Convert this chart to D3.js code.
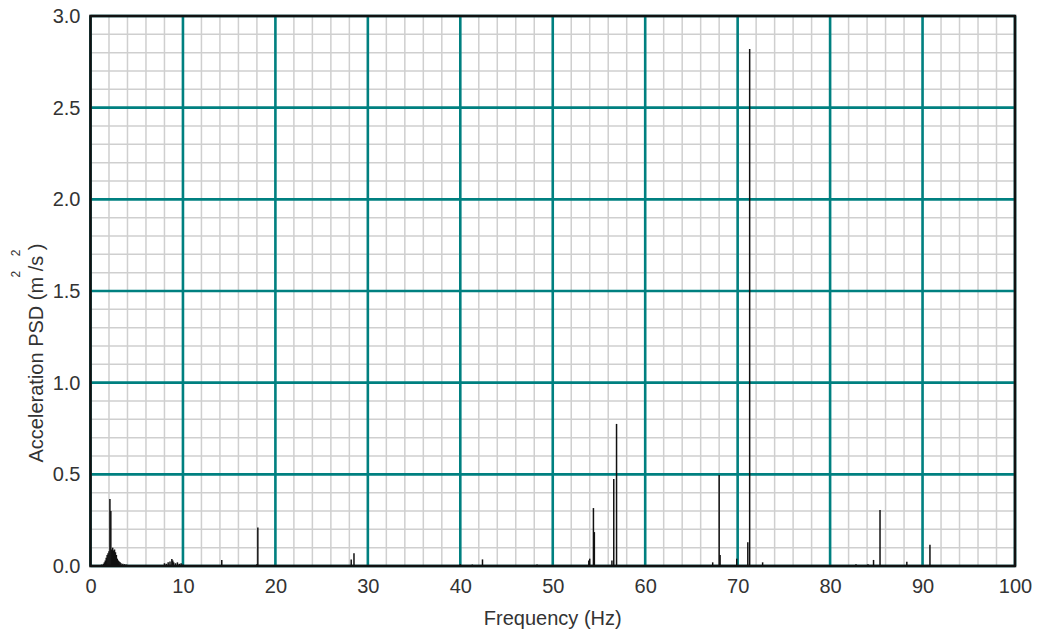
<!DOCTYPE html>
<html><head><meta charset="utf-8">
<script src="https://cdn.jsdelivr.net/npm/d3@7"></script>
<style>body{margin:0;background:#fff}svg{display:block}</style>
</head><body>
<svg id="c" width="1037" height="636"></svg>
<script>
const xTicks = [0,10,20,30,40,50,60,70,80,90,100];
const yTicks = [0,0.5,1.0,1.5,2.0,2.5,3.0];
const xMinor = [0,2,4,6,8,10,12,14,16,18,20,22,24,26,28,30,32,34,36,38,40,42,44,46,48,50,52,54,56,58,60,62,64,66,68,70,72,74,76,78,80,82,84,86,88,90,92,94,96,98,100];
const yMinor = [0,0.1,0.2,0.3,0.4,0.5,0.6,0.7,0.8,0.9,1.0,1.1,1.2,1.3,1.4,1.5,1.6,1.7,1.8,1.9,2.0,2.1,2.2,2.3,2.4,2.5,2.6,2.7,2.8,2.9,3.0];
const freq = [1.0,1.2,1.4,1.5,1.6,1.7,1.8,1.9,2.0,2.1,2.2,2.3,2.4,2.5,2.6,2.7,2.8,2.9,3.0,3.1,3.2,3.3,3.5,3.7,3.9,4.1,
  8.0,8.2,8.4,8.6,8.8,8.9,9.0,9.2,9.4,9.6,9.8,10.0,
  14.2,18.0,18.1,28.2,28.5,40.0,41.3,42.4,48.3,53.9,54.0,54.4,54.5,56.4,56.6,56.9,
  67.3,68.0,68.1,69.9,71.1,71.3,72.7,82.8,84.1,84.7,85.4,88.3,90.8];
const psd = [0.005,0.008,0.012,0.02,0.03,0.045,0.06,0.07,0.08,0.365,0.30,0.09,0.10,0.085,0.09,0.075,0.06,0.04,0.03,0.025,0.02,0.015,0.012,0.01,0.008,0.005,
  0.015,0.012,0.02,0.025,0.038,0.03,0.02,0.015,0.02,0.012,0.015,0.008,
  0.033,0.01,0.21,0.036,0.07,0.01,0.008,0.036,0.008,0.03,0.04,0.316,0.185,0.03,0.475,0.775,
  0.02,0.496,0.06,0.04,0.13,2.82,0.02,0.01,0.01,0.033,0.305,0.023,0.116];

const svg = d3.select('#c');
const L = 90.5, R = 1015, T = 16, B = 566;
const x = d3.scaleLinear().domain([0,100]).range([L,R]);
const y = d3.scaleLinear().domain([0,3]).range([B,T]);
const font = '"Liberation Sans", Arial, sans-serif';

// minor grid
svg.append('g').selectAll('line').data(xMinor).join('line')
  .attr('x1',d=>x(d)).attr('x2',d=>x(d)).attr('y1',T).attr('y2',B)
  .attr('stroke','#cfcfcf').attr('stroke-width',1.5);
svg.append('g').selectAll('line').data(yMinor).join('line')
  .attr('y1',d=>y(d)).attr('y2',d=>y(d)).attr('x1',L).attr('x2',R)
  .attr('stroke','#cfcfcf').attr('stroke-width',1.5);
// major grid
svg.append('g').selectAll('line').data(xTicks).join('line')
  .attr('x1',d=>x(d)).attr('x2',d=>x(d)).attr('y1',T).attr('y2',B)
  .attr('stroke','#008080').attr('stroke-width',2.6);
svg.append('g').selectAll('line').data(yTicks).join('line')
  .attr('y1',d=>y(d)).attr('y2',d=>y(d)).attr('x1',L).attr('x2',R)
  .attr('stroke','#008080').attr('stroke-width',2.6);

// spectrum stems
svg.append('g').selectAll('line').data(freq).join('line')
  .attr('x1',d=>x(d)).attr('x2',d=>x(d)).attr('y1',B)
  .attr('y2',(d,i)=>y(psd[i]))
  .attr('stroke','#111').attr('stroke-width',1.5);

// border
svg.append('rect').attr('x',L).attr('y',T).attr('width',R-L).attr('height',B-T)
  .attr('fill','none').attr('stroke','#111').attr('stroke-width',2.6);

// axes (labels only)
const xa = svg.append('g').attr('transform',`translate(0,${B})`)
  .call(d3.axisBottom(x).tickValues(xTicks).tickSize(0).tickPadding(13).tickFormat(d3.format('d')));
const ya = svg.append('g').attr('transform',`translate(${L},0)`)
  .call(d3.axisLeft(y).tickValues(yTicks).tickSize(0).tickPadding(10).tickFormat(d3.format('.1f')));
[xa,ya].forEach(a=>{
  a.select('.domain').remove();
  a.selectAll('text').attr('font-family',font).attr('font-size',20).attr('fill','#333');
});

svg.append('text').attr('x',(L+R)/2).attr('y',625).attr('text-anchor','middle')
  .attr('font-family',font).attr('font-size',20).attr('fill','#333').text('Frequency (Hz)');

const g = svg.append('g').attr('transform','translate(43,353) rotate(-90)');
const t = g.append('text').attr('x',0).attr('y',0).attr('text-anchor','middle')
  .attr('font-family',font).attr('font-size',20).attr('fill','#333').text('Acceleration PSD (m /s )');
const s = t.text();
const node = t.node();
[s.indexOf(' /'), s.lastIndexOf(' )')].forEach(idx=>{
  const p = node.getStartPositionOfChar(idx);
  const e = node.getEndPositionOfChar(idx);
  g.append('text').attr('x',(p.x+e.x)/2).attr('y',-23).attr('text-anchor','middle')
    .attr('font-family',font).attr('font-size',12).attr('fill','#333').text('2');
});
</script>
</body></html>
